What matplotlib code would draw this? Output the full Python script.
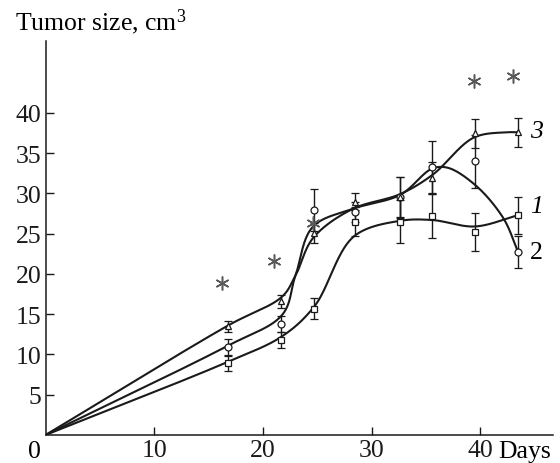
import numpy as np
import matplotlib
matplotlib.use("Agg")
import matplotlib.pyplot as plt

plt.rcParams.update({
    "font.family": ["Liberation Serif", "DejaVu Serif"],
    "font.size": 18.5,
    "mathtext.fontset": "custom",
    "mathtext.rm": "Liberation Serif",
    "mathtext.it": "Liberation Serif:italic",
})

# measured points (days, tumor size)
days = [16.8, 21.7, 24.7, 28.5, 32.6, 35.6, 39.5, 43.5]
size1 = [8.9, 11.8, 15.7, 26.5, 26.5, 27.2, 25.2, 27.3]      # squares
err1 = [0.9, 1.0, 1.3, 1.8, 2.7, 2.7, 2.4, 2.3]
size2 = [10.9, 13.8, 28.0, 27.7, 29.5, 33.3, 34.0, 22.7]     # circles
err2 = [1.0, 1.0, 2.6, 1.2, 2.5, 3.2, 3.3, 2.0]
size3 = [13.5, 16.6, 25.1, 29.0, 29.6, 31.9, 37.5, 37.6]     # triangles
err3 = [0.7, 0.8, 1.2, 1.1, 2.5, 2.0, 1.8, 1.8]

# smooth curves: knots
curve1_x = [0, 16.8, 21.7, 24.7, 28.5, 32.6, 35.6, 39.5, 43.5]
curve1_y = [0, 9.1, 12.2, 15.9, 24.8, 26.6, 26.7, 25.9, 27.3]
curve2_x = [0, 16.8, 21.7, 23.0, 24.7, 28.3, 32.6, 35.6, 37.0, 39.5, 42.1, 43.5]
curve2_y = [0, 11.1, 14.8, 19.8, 26.0, 28.1, 29.8, 33.1, 33.2, 31.1, 27.0, 22.7]
curve3_x = [0, 16.8, 21.7, 23.0, 24.7, 28.3, 32.6, 35.6, 39.5, 42.5, 43.5]
curve3_y = [0, 13.6, 17.1, 19.8, 24.6, 28.1, 29.9, 32.3, 37.0, 37.6, 37.6]

# significance marks
star_x = [16.2, 21.0, 24.6, 39.4, 43.0]
star_y = [18.9, 21.6, 26.3, 44.0, 44.6]

xticks = [10, 20, 30, 40]
yticks = [5, 10, 15, 20, 25, 30, 35, 40]


def catmull_rom(xs, ys, n=40, alpha=0.5):
    """Centripetal Catmull-Rom spline through the knots."""
    P = np.column_stack([xs, ys]).astype(float)
    P = np.vstack([2 * P[0] - P[1], P, 2 * P[-1] - P[-2]])
    out = []
    for i in range(1, len(P) - 2):
        p0, p1, p2, p3 = P[i - 1], P[i], P[i + 1], P[i + 2]
        t0 = 0.0
        t1 = t0 + np.linalg.norm(p1 - p0) ** alpha
        t2 = t1 + np.linalg.norm(p2 - p1) ** alpha
        t3 = t2 + np.linalg.norm(p3 - p2) ** alpha
        t = np.linspace(t1, t2, n)[:, None]
        a1 = (t1 - t) / (t1 - t0) * p0 + (t - t0) / (t1 - t0) * p1
        a2 = (t2 - t) / (t2 - t1) * p1 + (t - t1) / (t2 - t1) * p2
        a3 = (t3 - t) / (t3 - t2) * p2 + (t - t2) / (t3 - t2) * p3
        b1 = (t2 - t) / (t2 - t0) * a1 + (t - t0) / (t2 - t0) * a2
        b2 = (t3 - t) / (t3 - t1) * a2 + (t - t1) / (t3 - t1) * a3
        out.append((t2 - t) / (t2 - t1) * b1 + (t - t1) / (t2 - t1) * b2)
    c = np.vstack(out)
    return c[:, 0], c[:, 1]


fig = plt.figure(figsize=(5.6, 4.64), dpi=100)
ax = fig.add_axes([45.5 / 560, 28 / 464, 507.5 / 560, 394.5 / 464])

for cx, cy in [(curve1_x, curve1_y), (curve2_x, curve2_y), (curve3_x, curve3_y)]:
    sx, sy = catmull_rom(cx, cy)
    ax.plot(sx, sy, color="#1a1a1a", lw=1.5, zorder=2)

for vals, errs, mk in [(size1, err1, "s"), (size2, err2, "o"), (size3, err3, "^")]:
    ax.errorbar(days, vals, yerr=errs, fmt=mk, ms=5, mfc="white", mec="#1a1a1a",
                mew=0.9, ecolor="#1a1a1a", elinewidth=1.0, capsize=3, capthick=1.0,
                zorder=3)

ax.plot(star_x, star_y, ls="", marker=(6, 2, 0), ms=10, mew=1.1, color="0.35", zorder=4)

ax.text(44.6, 37.8, "3", style="italic", va="center", ha="left")
ax.text(44.6, 28.5, "1", style="italic", va="center", ha="left")
ax.text(44.6, 22.7, "2", va="center", ha="left")

ax.set_xlim(0, 46.7)
ax.set_ylim(0, 49)
ax.set_xticks(xticks)
ax.set_yticks(yticks)
ax.tick_params(direction="in", length=6, width=1, pad=3, colors="#1a1a1a")
for s in ["top", "right"]:
    ax.spines[s].set_visible(False)
for s in ["left", "bottom"]:
    ax.spines[s].set_linewidth(1.1)
    ax.spines[s].set_color("#1a1a1a")
ax.patch.set_alpha(0)

fig.text(34 / 560, 1 - 458 / 464, "0", ha="center", va="baseline")
fig.text(498 / 560, 1 - 458 / 464, "Days", ha="left", va="baseline")
fig.text(15 / 560, 1 - 30 / 464, "Tumor size, cm$^3$", ha="left", va="baseline")

fig.savefig("out.png", dpi=100)
